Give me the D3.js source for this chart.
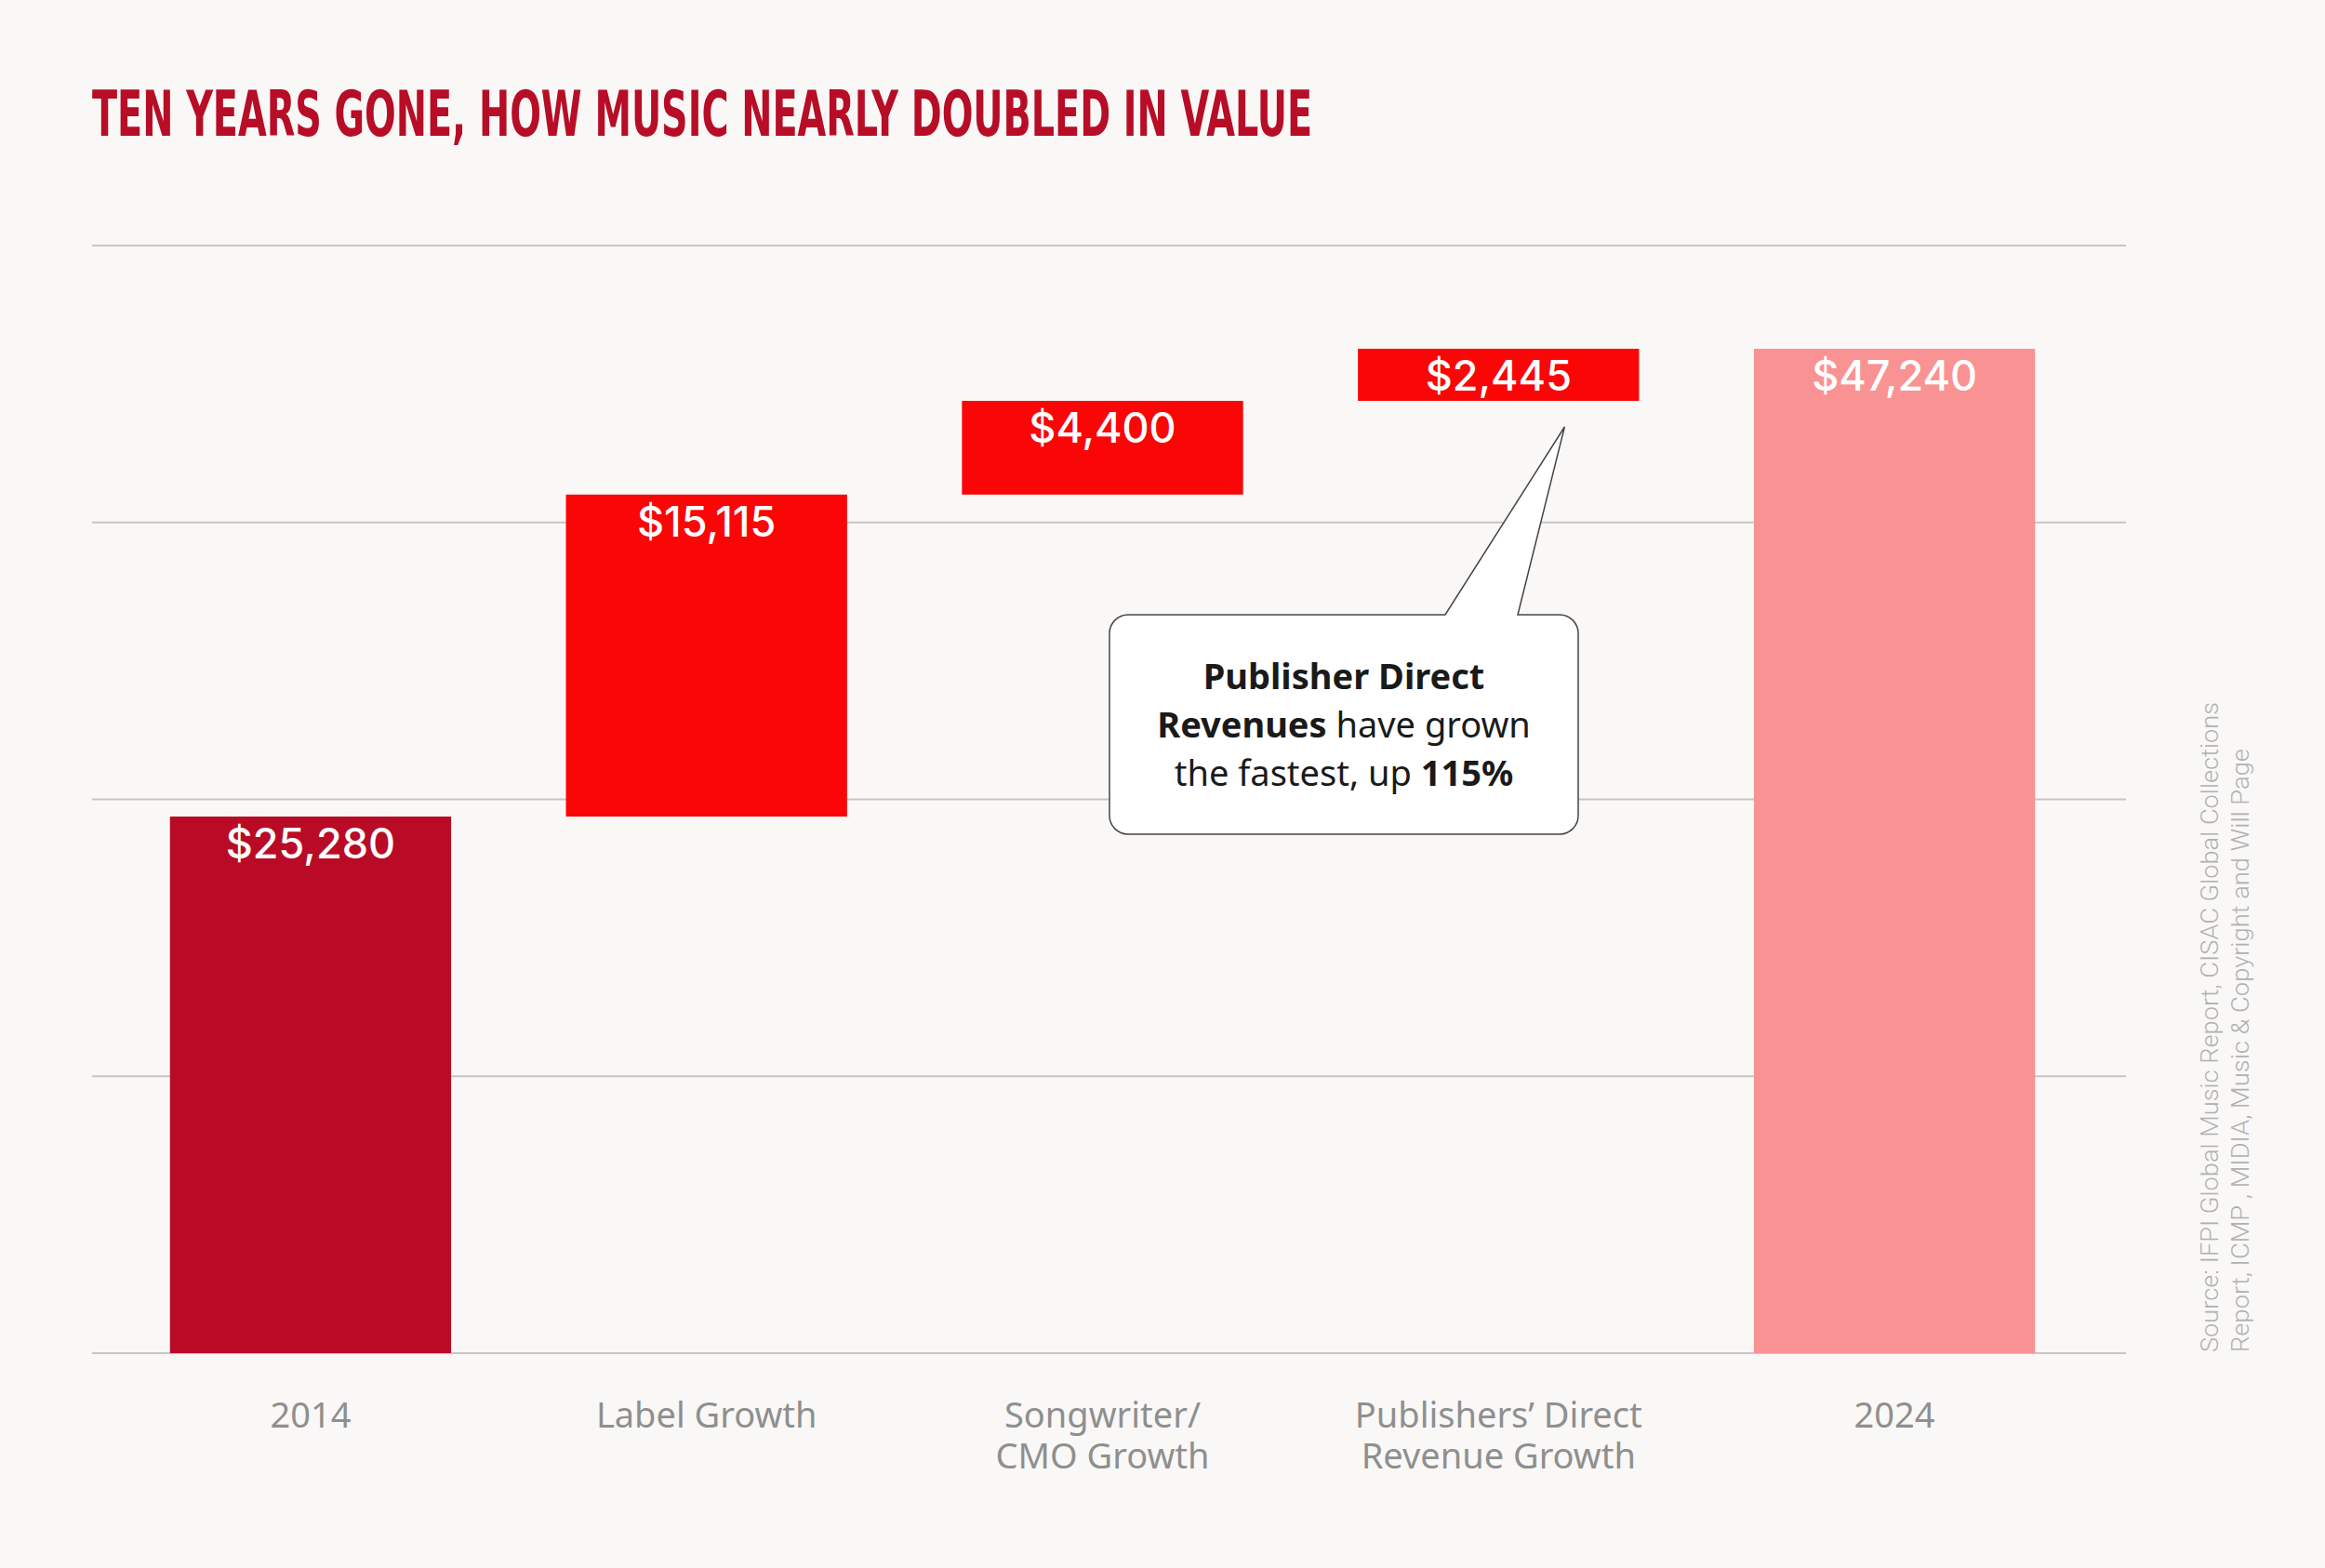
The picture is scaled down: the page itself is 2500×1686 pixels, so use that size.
<!DOCTYPE html>
<html>
<head>
<meta charset="utf-8">
<script src="https://cdn.jsdelivr.net/npm/d3@7"></script>
<style>
  html, body { margin: 0; padding: 0; background: #f9f8f6; }
  svg { display: block; }
</style>
</head>
<body>
<div id="chart"></div>
<script>
// data
const categories = ["2014", "Label Growth", "Songwriter/\nCMO Growth", "Publishers’ Direct\nRevenue Growth", "2024"];
const values = [25280, 15115, 4400, 2445, 47240];
const kinds = ["start", "step", "step", "step", "total"];
const gridTicks = [0, 13000, 26000, 39000, 52000];
const titleText = "TEN YEARS GONE, HOW MUSIC NEARLY DOUBLED IN VALUE";
const sourceLines = [
    "Source: IFPI Global Music Report, CISAC Global Collections",
    "Report, ICMP , MIDIA, Music & Copyright and Will Page"
];

const width = 2500, height = 1686;
const colors = { start: "#b90b25", step: "#fb0606", total: "#f99393" };

const svg = d3.select("#chart").append("svg")
    .attr("width", width)
    .attr("height", height)
    .attr("viewBox", `0 0 ${width} ${height}`);

svg.append("rect").attr("width", width).attr("height", height).attr("fill", "#f9f8f6");

// waterfall rows
let running = 0;
const rows = categories.map((c, i) => {
    let y0, y1;
    if (kinds[i] === "step") { y0 = running; y1 = running + values[i]; running = y1; }
    else { y0 = 0; y1 = values[i]; running = values[i]; }
    return { cat: c, value: values[i], kind: kinds[i], y0, y1 };
});

const x = d3.scaleBand()
    .domain(categories)
    .range([121, 2250])
    .paddingInner(0.29)
    .paddingOuter(0.145);

const y = d3.scaleLinear()
    .domain([0, 52000])
    .range([1455, 264]);

// grid
svg.append("g").selectAll("line")
    .data(gridTicks)
    .join("line")
    .attr("x1", 99).attr("x2", 2286)
    .attr("y1", d => y(d)).attr("y2", d => y(d))
    .attr("stroke", "#c6c6c4")
    .attr("stroke-width", 2);

// bars
svg.append("g").selectAll("rect")
    .data(rows)
    .join("rect")
    .attr("x", d => x(d.cat))
    .attr("width", x.bandwidth())
    .attr("y", d => y(d.y1) + 2)
    .attr("height", d => y(d.y0) - y(d.y1) - (d.y0 === 0 ? 2 : 0))
    .attr("fill", d => colors[d.kind]);

// value labels
svg.append("g").selectAll("text")
    .data(rows)
    .join("text")
    .attr("x", d => x(d.cat) + x.bandwidth() / 2)
    .attr("y", d => y(d.y1) + 47)
    .attr("text-anchor", "middle")
    .attr("fill", "#fff")
    .style("font-family", "Inter, 'Noto Sans', sans-serif")
    .style("font-weight", 500)
    .style("font-size", "45px")
    .text(d => "$" + d3.format(",")(d.value));

// category labels, one text per line
const catG = svg.append("g");
rows.forEach(d => {
    d.cat.split("\n").forEach((line, i) => {
        catG.append("text")
            .attr("x", x(d.cat) + x.bandwidth() / 2)
            .attr("y", 1535 + i * 44)
            .attr("text-anchor", "middle")
            .attr("fill", "#8f8f8f")
            .style("font-family", "'Noto Sans', 'Open Sans', sans-serif")
            .style("font-size", "38px")
            .text(line);
    });
});

// title
svg.append("text")
    .attr("x", 99)
    .attr("y", 146)
    .attr("fill", "#b70d27")
    .attr("textLength", 1312)
    .attr("lengthAdjust", "spacingAndGlyphs")
    .style("font-family", "'Liberation Sans Narrow', 'DejaVu Sans Condensed', 'Roboto', sans-serif")
    .style("font-weight", 700)
    .style("font-size", "67px")
    .text(titleText);

// callout for publisher bar
const pub = rows[3];
const tipX = x(pub.cat) + x.bandwidth() * 0.735;
const tipY = y(pub.y0) + 30;
const bx0 = 1193, bx1 = 1697, by0 = 661, by1 = 897, r = 20;
const pl = 1554, pr = 1632;
const callout = d3.path();
callout.moveTo(bx0 + r, by0);
callout.lineTo(pl, by0);
callout.lineTo(tipX, tipY);
callout.lineTo(pr, by0);
callout.lineTo(bx1 - r, by0);
callout.arcTo(bx1, by0, bx1, by0 + r, r);
callout.lineTo(bx1, by1 - r);
callout.arcTo(bx1, by1, bx1 - r, by1, r);
callout.lineTo(bx0 + r, by1);
callout.arcTo(bx0, by1, bx0, by1 - r, r);
callout.lineTo(bx0, by0 + r);
callout.arcTo(bx0, by0, bx0 + r, by0, r);
callout.closePath();

svg.append("path")
    .attr("d", callout.toString())
    .attr("fill", "#fff")
    .attr("stroke", "#444")
    .attr("stroke-width", 1.5);

const noteLines = [
    [["Publisher Direct", true]],
    [["Revenues", true], [" have grown", false]],
    [["the fastest, up ", false], ["115%", true]]
];
const cx = (bx0 + bx1) / 2;
noteLines.forEach((parts, i) => {
    const t = svg.append("text")
        .attr("x", cx)
        .attr("y", 741 + i * 52)
        .attr("text-anchor", "middle")
        .attr("fill", "#1a1a1a")
        .style("font-family", "'Noto Sans', 'Open Sans', sans-serif")
        .style("font-size", "38px");
    parts.forEach(p => {
        t.append("tspan")
            .style("font-weight", p[1] ? 700 : 400)
            .text(p[0]);
    });
});

// source, rotated
const srcLens = [699, 649];
sourceLines.forEach((s, i) => {
    svg.append("text")
        .attr("transform", `translate(${2385 + i * 33},1454) rotate(-90)`)
        .attr("fill", "#b0b0b0")
        .attr("textLength", srcLens[i])
        .attr("lengthAdjust", "spacingAndGlyphs")
        .style("font-family", "Roboto, sans-serif")
        .style("font-weight", 300)
        .style("font-size", "26px")
        .text(s);
});
</script>
</body>
</html>
